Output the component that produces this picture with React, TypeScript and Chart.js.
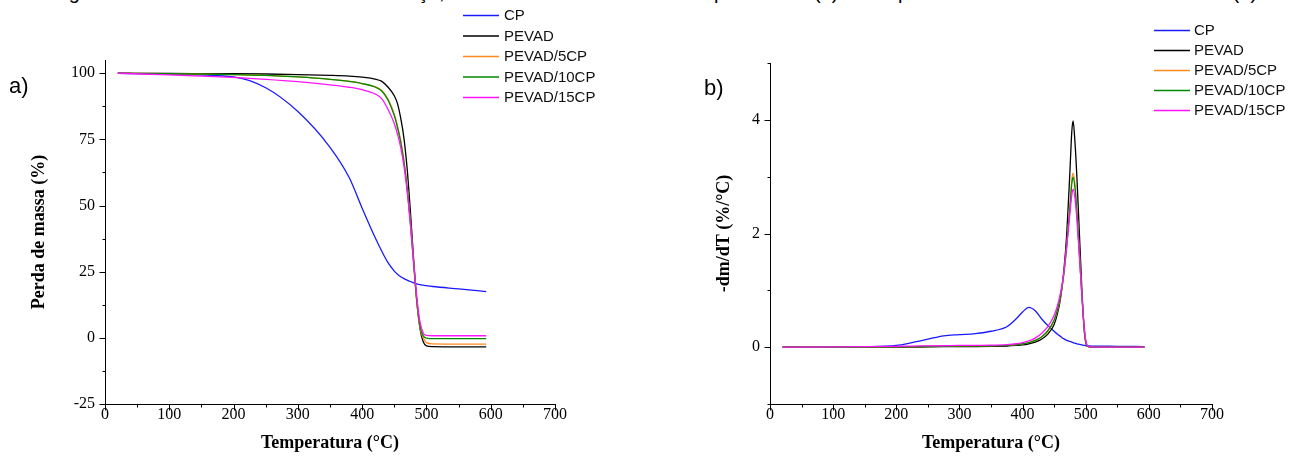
import React, { useEffect, useRef } from "react";
import { Chart, registerables } from "chart.js";

Chart.register(...registerables);

// ---------- data ----------
const seriesNames = ["CP", "PEVAD", "PEVAD/5CP", "PEVAD/10CP", "PEVAD/15CP"];
const seriesColors = ["#1a1aff", "#000000", "#ff8c1a", "#008a00", "#ff14ff"];

const xTicks = [0, 100, 200, 300, 400, 500, 600, 700];
const xMinorTicks = [50, 150, 250, 350, 450, 550, 650];
const tgaYTicks = [-25, 0, 25, 50, 75, 100];
const tgaYMinorTicks = [-12.5, 12.5, 37.5, 62.5, 87.5];
const dtgYTicks = [0, 2, 4];
const dtgYMinorTicks = [-1, 1, 3, 5];

// (a) TGA - mass (%)
const tgaTemp = [20, 100, 200, 250, 300, 350, 380, 400, 420, 430, 440, 450, 455, 460, 465, 470, 475, 480, 485, 490, 495, 500, 510, 550, 593];
const tgaCP = [100, 99.6, 98.6, 94.5, 85.5, 72, 60.5, 49, 38, 33, 28.5, 25.2, 24, 23.1, 22.4, 21.8, 21.3, 20.8, 20.4, 20.1, 19.9, 19.7, 19.4, 18.5, 17.5];
const tgaPEVAD = [100, 99.9, 99.8, 99.7, 99.5, 99.2, 98.9, 98.5, 97.8, 97.0, 94.8, 91.5, 88.5, 83, 75.5, 64, 48, 30, 14, 3.5, -1.5, -3.0, -3.3, -3.4, -3.4];
const tga5CP = [100, 99.8, 99.5, 99.2, 98.6, 97.7, 96.9, 96.1, 94.9, 93.6, 90.3, 84.5, 80, 74.5, 67, 57, 44, 28.5, 13.5, 4, 0, -1.8, -2.3, -2.4, -2.4];
const tga10CP = [100, 99.8, 99.5, 99.2, 98.6, 97.7, 96.9, 96.1, 94.8, 93.4, 90, 84, 79.5, 74, 66.5, 56.5, 43.5, 28.5, 14, 4.5, 0.8, -0.1, -0.3, -0.3, -0.3];
const tga15CP = [100, 99.4, 98.4, 97.7, 96.8, 95.6, 94.7, 93.8, 92.2, 90.5, 86.5, 81, 77, 72, 65, 55.5, 43, 29, 15.5, 6, 1.8, 0.9, 0.8, 0.8, 0.8];

// (b) DTG - -dm/dT (%/°C)
const dtgTemp = [20, 100, 150, 200, 225, 250, 275, 300, 325, 350, 375, 390, 400, 410, 420, 430, 440, 450, 455, 460, 465, 470, 475, 478, 480, 483, 486, 490, 494, 498, 502, 510, 550, 593];
const dtgCP = [0, 0, 0.005, 0.03, 0.08, 0.14, 0.2, 0.22, 0.24, 0.28, 0.36, 0.5, 0.62, 0.7, 0.64, 0.5, 0.38, 0.28, 0.23, 0.19, 0.15, 0.12, 0.1, 0.09, 0.08, 0.07, 0.06, 0.05, 0.04, 0.03, 0.025, 0.02, 0.015, 0.01];
const dtgPEVAD = [0, 0, 0, 0, 0, 0.005, 0.008, 0.01, 0.012, 0.015, 0.02, 0.03, 0.04, 0.06, 0.09, 0.14, 0.23, 0.4, 0.58, 0.85, 1.3, 2.0, 3.1, 3.8, 3.98, 3.6, 3.0, 2.0, 1.0, 0.25, 0.02, 0, 0, 0];
const dtg5CP = [0, 0, 0.005, 0.01, 0.01, 0.012, 0.015, 0.02, 0.022, 0.025, 0.03, 0.045, 0.06, 0.08, 0.12, 0.18, 0.28, 0.47, 0.64, 0.88, 1.25, 1.8, 2.5, 2.95, 3.06, 2.85, 2.4, 1.65, 0.9, 0.28, 0.03, 0, 0, 0];
const dtg10CP = [0, 0, 0.005, 0.01, 0.01, 0.012, 0.015, 0.02, 0.022, 0.025, 0.03, 0.045, 0.06, 0.08, 0.12, 0.18, 0.29, 0.48, 0.65, 0.9, 1.27, 1.8, 2.45, 2.88, 2.99, 2.8, 2.38, 1.65, 0.9, 0.28, 0.03, 0, 0, 0];
const dtg15CP = [0, 0.005, 0.008, 0.015, 0.02, 0.022, 0.025, 0.03, 0.032, 0.035, 0.045, 0.06, 0.08, 0.11, 0.16, 0.24, 0.36, 0.56, 0.72, 0.95, 1.28, 1.78, 2.35, 2.68, 2.78, 2.62, 2.25, 1.6, 0.9, 0.3, 0.04, 0, 0, 0];

// ---------- styling ----------
const SERIF = "'Liberation Serif', 'Times New Roman', serif";
const SANS = "'Liberation Sans', Arial, sans-serif";

const tickMarksPlugin = {
  id: "tickMarks",
  afterDraw(chart: any, _args: any, opts: any) {
    const ctx = chart.ctx;
    const xs = chart.scales.x;
    const ys = chart.scales.y;
    const { left, bottom } = chart.chartArea;
    const ax = Math.round(left) + 0.5;
    const ay = Math.round(bottom) + 0.5;
    ctx.save();
    ctx.strokeStyle = "#000";
    ctx.lineWidth = 1;
    ctx.beginPath();
    const drawX = (vals: number[], len: number) => {
      vals.forEach((v) => {
        const px = Math.round(xs.getPixelForValue(v)) + 0.5;
        ctx.moveTo(px, ay);
        ctx.lineTo(px, ay + len);
      });
    };
    const drawY = (vals: number[], len: number) => {
      vals.forEach((v) => {
        const py = Math.round(ys.getPixelForValue(v)) + 0.5;
        ctx.moveTo(ax, py);
        ctx.lineTo(ax - len, py);
      });
    };
    drawX(opts.xMajor, 6);
    drawX(opts.xMinor, 3);
    drawY(opts.yMajor, 6);
    drawY(opts.yMinor, 3);
    ctx.stroke();
    ctx.restore();
  },
};

const sideLegendPlugin = {
  id: "sideLegend",
  afterDraw(chart: any, _args: any, opts: any) {
    const ctx = chart.ctx;
    ctx.save();
    chart.data.datasets.forEach((ds: any, i: number) => {
      const y = opts.y0 + i * opts.dy;
      ctx.strokeStyle = ds.borderColor;
      ctx.lineWidth = 1.5;
      ctx.beginPath();
      ctx.moveTo(opts.x0, y + 0.5);
      ctx.lineTo(opts.x1, y + 0.5);
      ctx.stroke();
      ctx.fillStyle = "#111";
      ctx.font = `15px ${SANS}`;
      ctx.textBaseline = "middle";
      ctx.textAlign = "left";
      ctx.fillText(ds.label, opts.tx, y + 1);
    });
    ctx.restore();
  },
};

function makeDatasets(temps: number[], series: number[][]) {
  return series.map((vals, i) => ({
    label: seriesNames[i],
    data: temps.map((t, j) => ({ x: t, y: vals[j] })),
    borderColor: seriesColors[i],
    backgroundColor: seriesColors[i],
    borderWidth: 1.3,
    pointRadius: 0,
    fill: false,
    cubicInterpolationMode: "monotone" as const,
    order: series.length - 1 - i,
  }));
}

type Layout = {
  yMin: number;
  yMax: number;
  yTicks: number[];
  yMinor: number[];
  yTitle: string;
  yWidth: number;
  yTitlePad: number;
  padTop: number;
  padRight: number;
  legend: { x0: number; x1: number; tx: number; y0: number; dy: number };
};

function makeConfig(temps: number[], series: number[][], L: Layout): any {
  return {
    type: "line",
    data: { datasets: makeDatasets(temps, series) },
    plugins: [tickMarksPlugin, sideLegendPlugin],
    options: {
      responsive: false,
      animation: false,
      devicePixelRatio: 1,
      layout: { padding: { top: L.padTop, right: L.padRight, left: 0, bottom: 0 } },
      plugins: {
        legend: { display: false },
        tooltip: { enabled: false },
        tickMarks: { xMajor: xTicks, xMinor: xMinorTicks, yMajor: L.yTicks, yMinor: L.yMinor },
        sideLegend: L.legend,
      },
      scales: {
        x: {
          type: "linear",
          min: 0,
          max: 700,
          afterBuildTicks: (s: any) => {
            s.ticks = xTicks.map((v) => ({ value: v }));
          },
          afterFit: (s: any) => {
            s.height = 57;
          },
          grid: { display: true, drawOnChartArea: false, drawTicks: false },
          border: { display: true, color: "#000", width: 1 },
          ticks: { font: { family: SERIF, size: 16 }, color: "#000", padding: 1, maxRotation: 0, autoSkip: false },
          title: {
            display: true,
            text: "Temperatura (°C)",
            font: { family: SERIF, size: 18, weight: "bold" },
            color: "#000",
            padding: { top: 0, bottom: 7 },
          },
        },
        y: {
          type: "linear",
          min: L.yMin,
          max: L.yMax,
          afterBuildTicks: (s: any) => {
            s.ticks = L.yTicks.map((v) => ({ value: v }));
          },
          afterFit: (s: any) => {
            s.width = L.yWidth;
          },
          grid: { display: true, drawOnChartArea: false, drawTicks: false },
          border: { display: true, color: "#000", width: 1 },
          ticks: { font: { family: SERIF, size: 16 }, color: "#000", padding: 10 },
          title: {
            display: true,
            text: L.yTitle,
            font: { family: SERIF, size: 18, weight: "bold" },
            color: "#000",
            padding: { top: L.yTitlePad, bottom: 0 },
          },
        },
      },
    },
  };
}

function ChartCanvas({ makeCfg, left, width, height }: { makeCfg: () => any; left: number; width: number; height: number }) {
  const ref = useRef<HTMLCanvasElement>(null);
  useEffect(() => {
    const chart = new Chart(ref.current as HTMLCanvasElement, makeCfg());
    return () => chart.destroy();
  }, []);
  return (
    <canvas
      ref={ref}
      width={width}
      height={height}
      style={{ position: "absolute", left, top: 0, width, height, display: "block" }}
    />
  );
}

const captionStyle: React.CSSProperties = {
  position: "absolute",
  top: -18,
  fontFamily: SANS,
  fontSize: 20,
  lineHeight: "20px",
  color: "#000",
  whiteSpace: "nowrap",
};

const panelLabel: React.CSSProperties = {
  position: "absolute",
  fontFamily: SANS,
  fontSize: 22,
  lineHeight: "22px",
  color: "#000",
};

export default function App() {
  return (
    <div
      style={{
        position: "absolute",
        left: 0,
        top: 0,
        width: 1298,
        height: 461,
        overflow: "hidden",
        background: "#fff",
      }}
    >
      <span style={{ ...captionStyle, left: 52 }}>Figura 4 – Análise térmica</span>
      <span style={{ ...captionStyle, left: 360 }}>e reforço,</span>
      <span style={{ ...captionStyle, left: 714 }}>perda total (a) e sua</span>
      <span style={{ ...captionStyle, left: 898 }}>primeira derivada da curva de massa (b)</span>

      <ChartCanvas
        left={0}
        width={650}
        height={461}
        makeCfg={() =>
          makeConfig(tgaTemp, [tgaCP, tgaPEVAD, tga5CP, tga10CP, tga15CP], {
            yMin: -25,
            yMax: 105,
            yTicks: tgaYTicks,
            yMinor: tgaYMinorTicks,
            yTitle: "Perda de massa (%)",
            yWidth: 105,
            yTitlePad: 29,
            padTop: 60,
            padRight: 95,
            legend: { x0: 463, x1: 499, tx: 504, y0: 15, dy: 20.5 },
          })
        }
      />
      <ChartCanvas
        left={650}
        width={648}
        height={461}
        makeCfg={() =>
          makeConfig(dtgTemp, [dtgCP, dtgPEVAD, dtg5CP, dtg10CP, dtg15CP], {
            yMin: -1,
            yMax: 5,
            yTicks: dtgYTicks,
            yMinor: dtgYMinorTicks,
            yTitle: "-dm/dT (%/°C)",
            yWidth: 120,
            yTitlePad: 64,
            padTop: 63,
            padRight: 86,
            legend: { x0: 504, x1: 540, tx: 544, y0: 30, dy: 20 },
          })
        }
      />
      <div style={{ ...panelLabel, left: 9, top: 75 }}>a)</div>
      <div style={{ ...panelLabel, left: 704, top: 77 }}>b)</div>
    </div>
  );
}
